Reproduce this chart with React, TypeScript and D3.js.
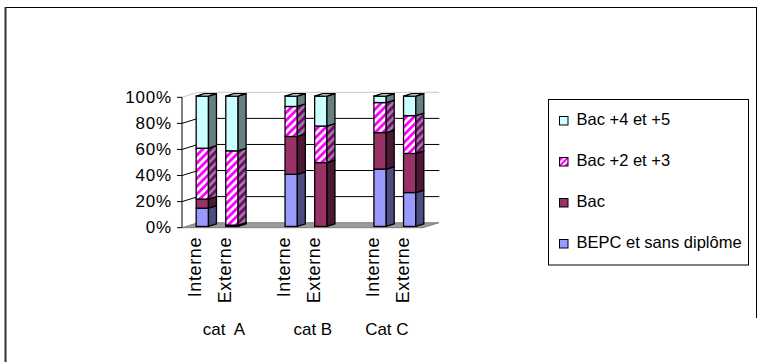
import React from "react";
import * as d3 from "d3";

// Stacked 3D column chart: education level of recruits per category and recruitment type
const groups = ["cat  A", "cat B", "Cat C"];
const recruitTypes = ["Interne", "Externe"];
const seriesNames = ["BEPC et sans diplôme", "Bac", "Bac +2 et +3", "Bac +4 et +5"];

// values in %, order: A-Interne, A-Externe, B-Interne, B-Externe, C-Interne, C-Externe
const bepcValues = [14, 0, 40, 0, 44, 26];
const bacValues = [7, 1, 29, 49, 28, 30];
const bac23Values = [39, 57, 23, 28, 23, 29];
const bac45Values = [40, 42, 8, 23, 5, 15];

const yTicks = [0, 20, 40, 60, 80, 100];

const W = 770;
const H = 362;
const FONT = "'Liberation Sans', Arial, Helvetica, sans-serif";

// plot geometry
const axisX = 182;
const wallDx = 16;
const wallDy = -5;
const barDepthStart = 0.25;
const barDepth = 0.5;
const barWidth = 12.3;

type Style = { front: string; side: string; top: string };
const styles: Style[] = [
  { front: "#9999FF", side: "#4C4C80", top: "#B8B8FF" },
  { front: "#993366", side: "#4C1933", top: "#B35C85" },
  { front: "url(#stripeFront)", side: "url(#stripeSide)", top: "url(#stripeFront)" },
  { front: "#CCFFFF", side: "#668080", top: "#E0FFFF" },
];

export default function App() {
  // slots: two bars per group followed by an empty spacer column
  const slots: { key: string; bar: number | null; label: string }[] = [];
  let barIdx = 0;
  groups.forEach((g, gi) => {
    recruitTypes.forEach((r) => {
      slots.push({ key: `${g}-${r}`, bar: barIdx++, label: r });
    });
    if (gi < groups.length - 1) slots.push({ key: `${g}-gap`, bar: null, label: "" });
  });

  const x = d3
    .scaleBand<string>()
    .domain(slots.map((s) => s.key))
    .range([183.5, 420.5]);

  const y = d3.scaleLinear().domain([0, 100]).range([227.7, 97.3]);

  const series = [bepcValues, bacValues, bac23Values, bac45Values];
  const table = slots
    .filter((s) => s.bar !== null)
    .map((s) => {
      const row: Record<string, number | string> = { key: s.key };
      seriesNames.forEach((n, i) => (row[n] = series[i][s.bar as number]));
      return row;
    });
  const stacked = d3.stack<Record<string, number | string>>().keys(seriesNames)(table as any);

  const bdx = wallDx * barDepth;
  const bdy = wallDy * barDepth;
  const fdx = wallDx * barDepthStart;
  const fdy = wallDy * barDepthStart;

  const floorLeft = axisX;
  const floorRight = 423;
  const y0 = y(0);

  const pts = (p: [number, number][]) => p.map((q) => q.join(",")).join(" ");

  const bars = table.map((row, bi) => {
    const key = row.key as string;
    const cx = (x(key) as number) + x.bandwidth() / 2 + fdx;
    const xl = cx - barWidth / 2;
    const xr = cx + barWidth / 2;
    const parts: React.ReactNode[] = [];
    let topY = 0;
    let topStyle = styles[3];
    stacked.forEach((layer, si) => {
      const [a, b] = layer[bi];
      if (b - a <= 0) return;
      const yb = y(a) + fdy;
      const yt = y(b) + fdy;
      topY = yt;
      topStyle = styles[si];
      parts.push(
        <g key={si}>
          <rect x={xl} y={yt} width={barWidth} height={yb - yt} fill={styles[si].front} stroke="#000" strokeWidth={1.3} />
          <polygon
            points={pts([
              [xr, yb],
              [xr + bdx, yb + bdy],
              [xr + bdx, yt + bdy],
              [xr, yt],
            ])}
            fill={styles[si].side}
            stroke="#000"
            strokeWidth={1.3}
            strokeLinejoin="round"
          />
        </g>
      );
    });
    parts.push(
      <polygon
        key="top"
        points={pts([
          [xl, topY],
          [xr, topY],
          [xr + bdx, topY + bdy],
          [xl + bdx, topY + bdy],
        ])}
        fill={topStyle.top}
        stroke="#000"
        strokeWidth={1.3}
        strokeLinejoin="round"
      />
    );
    return <g key={key}>{parts}</g>;
  });

  const wallLeft = axisX + wallDx;
  const wallRight = 439.3;

  return (
    <svg
      width={W}
      height={H}
      style={{ position: "absolute", left: 0, top: 0, background: "#fff" }}
      fontFamily={FONT}
    >
      <defs>
        <pattern id="stripeFront" patternUnits="userSpaceOnUse" width={5.5} height={5.5} patternTransform="rotate(45)">
          <rect width={5.5} height={5.5} fill="#FFFFFF" />
          <rect width={2.9} height={5.5} fill="#FF00FF" />
        </pattern>
        <pattern id="stripeSide" patternUnits="userSpaceOnUse" width={5.5} height={5.5} patternTransform="rotate(45)">
          <rect width={5.5} height={5.5} fill="#8C8C8C" />
          <rect width={2.9} height={5.5} fill="#800080" />
        </pattern>
        <pattern id="stripeLegend" patternUnits="userSpaceOnUse" width={4} height={4} patternTransform="rotate(45)">
          <rect width={4} height={4} fill="#FFFFFF" />
          <rect width={2.2} height={4} fill="#FF00FF" />
        </pattern>
      </defs>

      {/* outer frame */}
      <line x1={5} y1={7.5} x2={757} y2={7.5} stroke="#000" strokeWidth={1} />
      <line x1={5.5} y1={7} x2={5.5} y2={H} stroke="#333" strokeWidth={2} />
      <line x1={756.5} y1={7} x2={756.5} y2={318} stroke="#000" strokeWidth={1} />

      {/* floor */}
      <polygon
        points={pts([
          [floorLeft, y0],
          [floorRight, y0],
          [floorRight + wallDx, y0 + wallDy],
          [floorLeft + wallDx, y0 + wallDy],
        ])}
        fill="#9A9A9A"
        stroke="#6E6E6E"
        strokeWidth={0.8}
      />

      {/* gridlines on the back wall with connectors to the value axis */}
      {yTicks
        .filter((t) => t > 0)
        .map((t) => {
          const col = t === 100 ? "#C8C8C8" : "#000";
          return (
            <g key={t}>
              <line x1={axisX} y1={y(t)} x2={wallLeft} y2={y(t) + wallDy} stroke={col} strokeWidth={1} />
              <line x1={wallLeft} y1={y(t) + wallDy} x2={wallRight} y2={y(t) + wallDy} stroke={col} strokeWidth={1} />
            </g>
          );
        })}

      {/* value axis */}
      <line x1={axisX} y1={y(100)} x2={axisX} y2={y(0)} stroke="#000" strokeWidth={1} />
      {yTicks.map((t) => (
        <g key={t}>
          <line x1={axisX - 5} y1={y(t)} x2={axisX} y2={y(t)} stroke="#000" strokeWidth={1} />
          <text x={172} y={y(t) + 5.5} textAnchor="end" fontSize={17} letterSpacing={0.8} fill="#000">
            {`${t}%`}
          </text>
        </g>
      ))}

      {bars}

      {/* category labels */}
      {slots
        .filter((s) => s.bar !== null)
        .map((s) => {
          const cx = (x(s.key) as number) + x.bandwidth() / 2 + 3;
          return (
            <text
              key={s.key}
              transform={`translate(${cx},237) rotate(-90)`}
              textAnchor="end"
              fontSize={18}
              letterSpacing={0.6}
              fill="#000"
            >
              {s.label}
            </text>
          );
        })}
      {groups.map((g, gi) => {
        const first = x(`${g}-${recruitTypes[0]}`) as number;
        const lastKey = gi < groups.length - 1 ? `${g}-gap` : `${g}-${recruitTypes[1]}`;
        const last = (x(lastKey) as number) + x.bandwidth();
        return (
          <text key={g} x={(first + last) / 2 - 4} y={335} textAnchor="middle" fontSize={17} fill="#000" style={{ whiteSpace: "pre" }}>
            {g}
          </text>
        );
      })}

      {/* legend */}
      <rect x={548.5} y={99.5} width={200} height={165.5} fill="#fff" stroke="#000" strokeWidth={1} />
      {seriesNames
        .slice()
        .reverse()
        .map((n, i) => {
          const si = seriesNames.length - 1 - i;
          const by = 125 + i * 41;
          const fill = si === 2 ? "url(#stripeLegend)" : styles[si].front;
          return (
            <g key={n}>
              <rect x={559.5} y={by - 8.5} width={8.5} height={8.5} fill={fill} stroke="#000" strokeWidth={1} />
              <text x={576.5} y={by} fontSize={16.5} fill="#000">
                {n}
              </text>
            </g>
          );
        })}
    </svg>
  );
}
